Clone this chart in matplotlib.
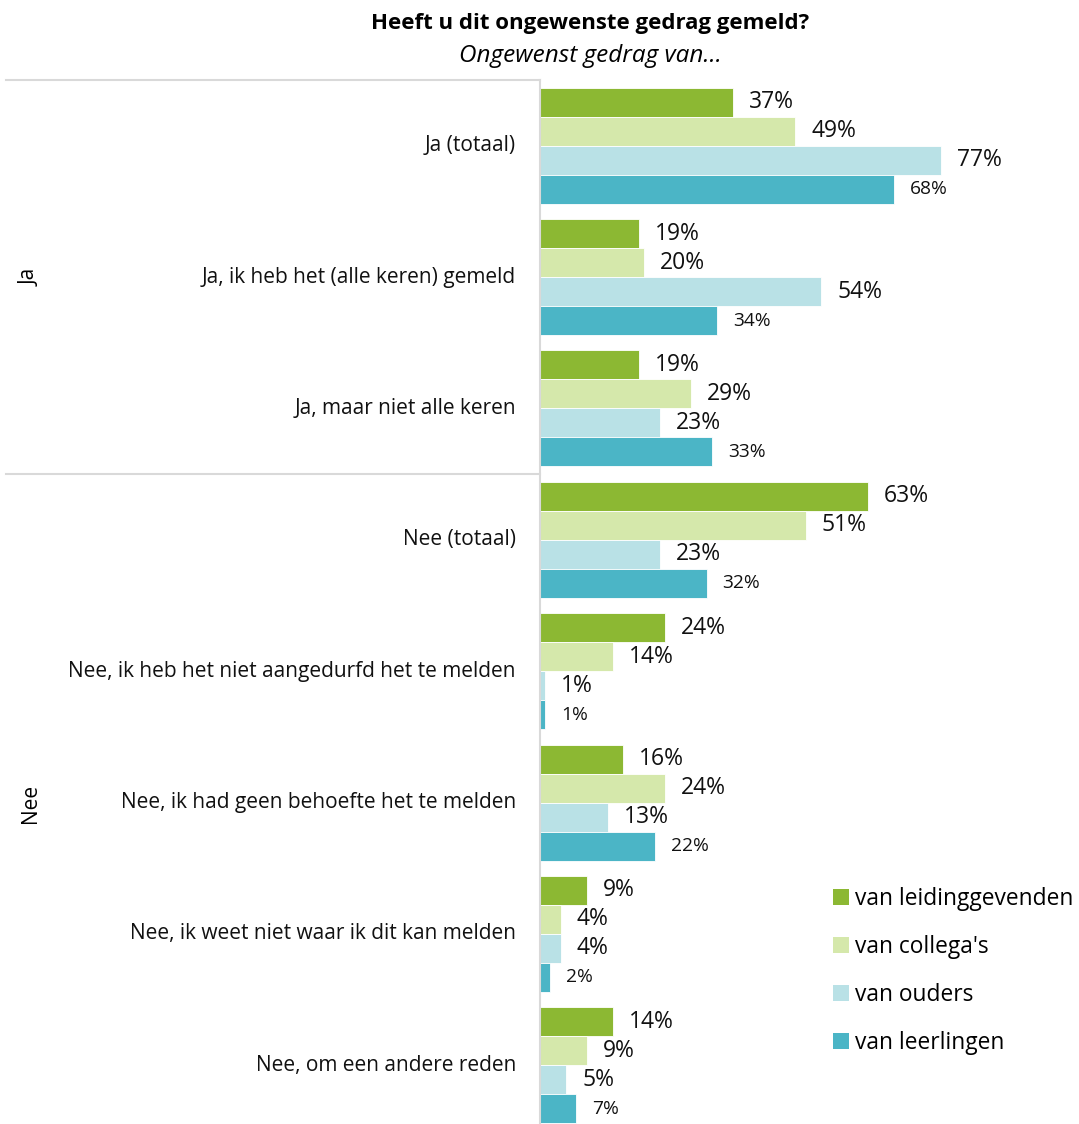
import numpy as np
import matplotlib.pyplot as plt
from matplotlib.lines import Line2D
from matplotlib.patches import Patch

plt.rcParams['font.family'] = ['Open Sans', 'DejaVu Sans']

categories = ['Ja (totaal)',
              'Ja, ik heb het (alle keren) gemeld',
              'Ja, maar niet alle keren',
              'Nee (totaal)',
              'Nee, ik heb het niet aangedurfd het te melden',
              'Nee, ik had geen behoefte het te melden',
              'Nee, ik weet niet waar ik dit kan melden',
              'Nee, om een andere reden']
series = ['van leidinggevenden', "van collega's", 'van ouders', 'van leerlingen']
leiding = [37, 19, 19, 63, 24, 16, 9, 14]
collega = [49, 20, 29, 51, 14, 24, 4, 9]
ouders = [77, 54, 23, 23, 1, 13, 4, 5]
leerling = [68, 34, 33, 32, 1, 22, 2, 7]
colors = ['#8CB833', '#D5E8AB', '#B9E1E6', '#4BB5C6']

W, H = 1079, 1124
fig = plt.figure(figsize=(W / 100, H / 100), dpi=100)
ax_left, ax_top, ax_bot = 540, 80, 1131
ax = fig.add_axes([ax_left / W, 1 - ax_bot / H, 1 - ax_left / W, (ax_bot - ax_top) / H])
px_per_pct = 401 / 77.0
ax.set_xlim(0, (W - ax_left) / px_per_pct)
ax.set_ylim(len(categories), 0)

slot = (ax_bot - ax_top) / len(categories)
h = 29 / slot
y = np.arange(len(categories)) + 0.5
for j, vals in enumerate([leiding, collega, ouders, leerling]):
    yy = y + (j - 1.5) * h
    ax.barh(yy, vals, height=h, color=colors[j], edgecolor='white', linewidth=0.6)
    fs = 13.8 if j == 3 else 16.5
    for v, yc in zip(vals, yy):
        ax.annotate('{}%'.format(v), (v, yc), xytext=(11.5, 0), textcoords='offset points',
                    ha='left', va='center', fontsize=fs, color='#111111')

for s in ['top', 'right', 'bottom']:
    ax.spines[s].set_visible(False)
ax.spines['left'].set_color('#D9D9D9')
ax.spines['left'].set_linewidth(1.5)
ax.set_xticks([])
ax.set_yticks([])

# category labels
for cat, yc in zip(categories, y):
    ax.annotate(cat, (0, yc), xytext=(-24 * 0.72, 0), textcoords='offset points',
                ha='right', va='center', fontsize=15, color='#111111',
                annotation_clip=False)

# group separators
for yp in [80, 474]:
    fig.add_artist(Line2D([6 / W, ax_left / W], [1 - yp / H, 1 - yp / H],
                          color='#D9D9D9', lw=1.5))
fig.text(30 / W, 1 - 277 / H, 'Ja', rotation=90, ha='center', va='center', fontsize=15)
fig.text(30 / W, 1 - 803 / H, 'Nee', rotation=90, ha='center', va='center', fontsize=15)

fig.text(590 / W, 1 - 23 / H, 'Heeft u dit ongewenste gedrag gemeld?', ha='center',
         va='center', fontsize=16, fontweight='bold')
fig.text(590 / W, 1 - 56 / H, 'Ongewenst gedrag van...', ha='center', va='center',
         fontsize=17.5, style='italic')

handles = [Patch(facecolor=c, edgecolor='none') for c in colors]
fig.legend(handles, series, loc='upper left', bbox_to_anchor=(824 / W, 1 - 878 / H),
           frameon=False, fontsize=16.4, handlelength=0.68, handleheight=0.68,
           handletextpad=0.3, labelspacing=1.05, borderaxespad=0)

fig.savefig('out.png', dpi=100)
